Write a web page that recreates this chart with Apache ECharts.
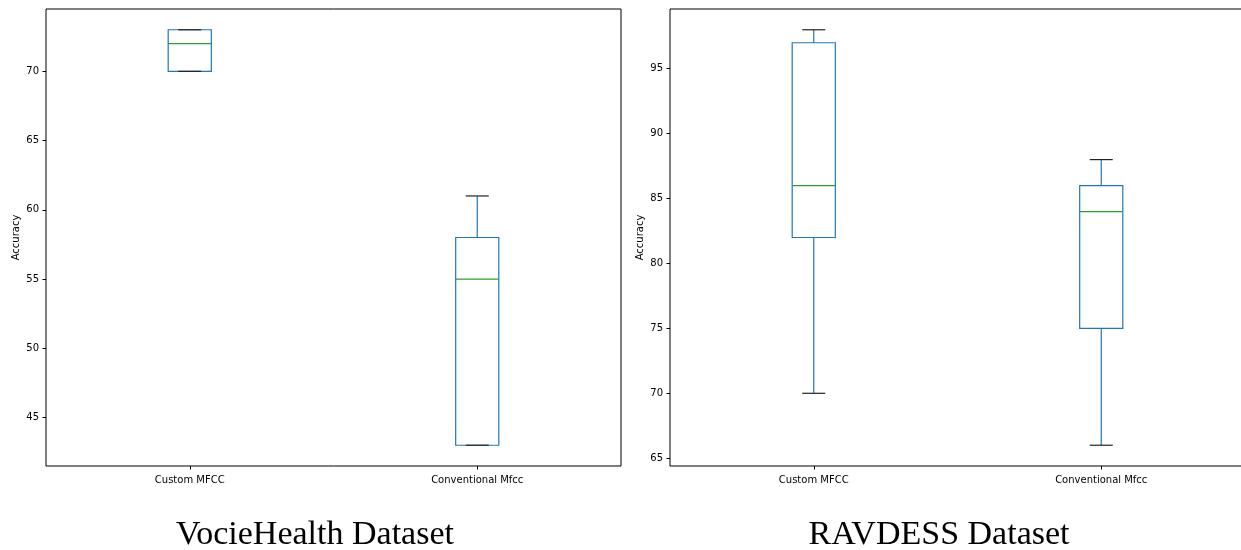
<!DOCTYPE html>
<html>
<head>
<meta charset="utf-8">
<script src="https://cdn.jsdelivr.net/npm/echarts@6/dist/echarts.min.js"></script>
<style>
  html, body { margin: 0; padding: 0; background: #fff; }
  #chart { width: 1241px; height: 550px; }
</style>
</head>
<body>
<div id="chart"></div>
<script>
// categories shared by both panels
const categories = ["Custom MFCC", "Conventional Mfcc"];

// VocieHealth: box stats per category
const vhMin = [70, 43];
const vhQ1 = [70, 43];
const vhMed = [72, 55];
const vhQ3 = [73, 58];
const vhMax = [73, 61];

// RAVDESS: box stats per category
const rvMin = [70, 66];
const rvQ1 = [82, 75];
const rvMed = [86, 84];
const rvQ3 = [97, 86];
const rvMax = [98, 88];

const panelTitles = ["VocieHealth Dataset", "RAVDESS Dataset"];

const BLUE = "#1f77b4";
const GREEN = "#2ca02c";

function rows(mn, q1, md, q3, mx) {
  return categories.map((c, i) => [i, mn[i], q1[i], md[i], q3[i], mx[i]]);
}

function renderBox(params, api) {
  const cat = api.value(0);
  const band = api.size([1, 0])[0];
  const bw = band * 0.15 / 2;
  const cw = band * 0.08 / 2;
  const pMin = api.coord([cat, api.value(1)]);
  const pQ1 = api.coord([cat, api.value(2)]);
  const pMed = api.coord([cat, api.value(3)]);
  const pQ3 = api.coord([cat, api.value(4)]);
  const pMax = api.coord([cat, api.value(5)]);
  const x = pMed[0];
  const ln = (x1, y1, x2, y2, color) => ({
    type: "line",
    shape: { x1, y1, x2, y2 },
    style: { stroke: color, lineWidth: 1.2 }
  });
  return {
    type: "group",
    children: [
      ln(x, pQ3[1], x, pMax[1], BLUE),
      ln(x, pQ1[1], x, pMin[1], BLUE),
      {
        type: "rect",
        shape: { x: x - bw, y: pQ3[1], width: bw * 2, height: pQ1[1] - pQ3[1] },
        style: { fill: null, stroke: BLUE, lineWidth: 1.2 }
      },
      ln(x - bw, pMed[1], x + bw, pMed[1], GREEN),
      ln(x - cw, pMax[1], x + cw, pMax[1], "#222"),
      ln(x - cw, pMin[1], x + cw, pMin[1], "#222")
    ]
  };
}

const chart = echarts.init(document.getElementById("chart"));

const axisFont = { fontFamily: "DejaVu Sans", fontSize: 10, color: "#000" };
const titleFont = { fontFamily: "Liberation Serif", fontSize: 34, fill: "#000" };

const options = {
  animation: false,
  graphic: [
    { type: "text", x: 315, y: 535, style: Object.assign({ text: panelTitles[0], align: "center", verticalAlign: "middle" }, titleFont) },
    { type: "text", x: 939, y: 535, style: Object.assign({ text: panelTitles[1], align: "center", verticalAlign: "middle" }, titleFont) }
  ],
  grid: [
    { left: 46, top: 9, width: 575, height: 457, outerBoundsMode: "none", show: true, borderColor: "#000", borderWidth: 1 },
    { left: 670, top: 9, width: 575, height: 457, outerBoundsMode: "none", show: true, borderColor: "#000", borderWidth: 1 }
  ],
  xAxis: [0, 1].map((g) => ({
    type: "category",
    gridIndex: g,
    data: categories,
    boundaryGap: true,
    axisLine: { show: false },
    axisTick: { show: true, alignWithLabel: true, length: 3.5, lineStyle: { color: "#000" } },
    axisLabel: Object.assign({ margin: 9 }, axisFont),
    splitLine: { show: false }
  })),
  yAxis: [
    { min: 41.5, max: 74.5 },
    { min: 64.4, max: 99.6 }
  ].map((r, g) => ({
    type: "value",
    gridIndex: g,
    min: r.min,
    max: r.max,
    minInterval: 5,
    maxInterval: 5,
    name: "Accuracy",
    nameLocation: "middle",
    nameGap: 25,
    nameTextStyle: { fontFamily: "DejaVu Sans", fontSize: 10, color: "#000" },
    axisLine: { show: false },
    axisTick: { show: true, length: 3.5, lineStyle: { color: "#000" } },
    axisLabel: Object.assign({ margin: 7, showMinLabel: false, showMaxLabel: false }, axisFont),
    splitLine: { show: false }
  })),
  series: [
    {
      type: "custom",
      xAxisIndex: 0,
      yAxisIndex: 0,
      renderItem: renderBox,
      encode: { x: 0, y: [1, 2, 3, 4, 5] },
      data: rows(vhMin, vhQ1, vhMed, vhQ3, vhMax)
    },
    {
      type: "custom",
      xAxisIndex: 1,
      yAxisIndex: 1,
      renderItem: renderBox,
      encode: { x: 0, y: [1, 2, 3, 4, 5] },
      data: rows(rvMin, rvQ1, rvMed, rvQ3, rvMax)
    }
  ]
};

chart.setOption(options);
</script>
</body>
</html>
